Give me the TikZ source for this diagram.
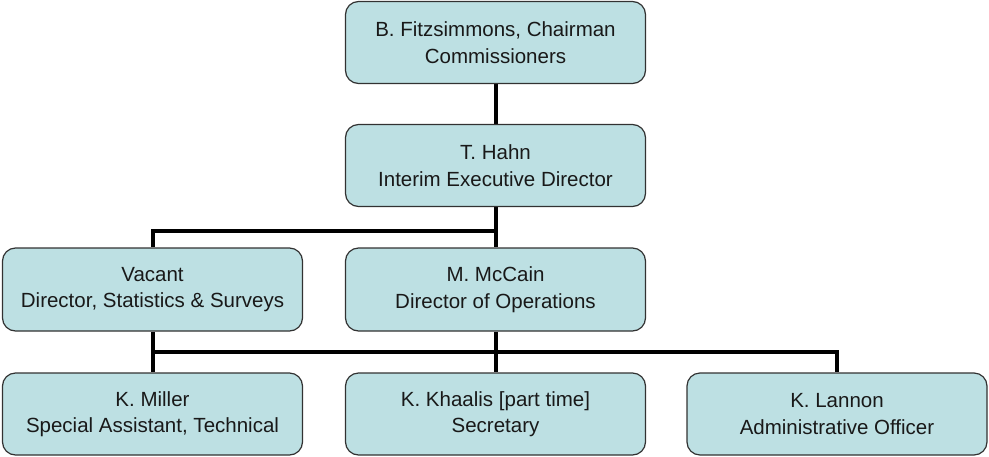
\documentclass[tikz,border=0pt]{standalone}
\usepackage{fontspec}
\setmainfont{Liberation Sans}
\usetikzlibrary{backgrounds}
\definecolor{boxfill}{RGB}{189,224,227}
\definecolor{boxline}{RGB}{50,50,50}
\definecolor{txt}{RGB}{25,25,25}
\begin{document}
\begin{tikzpicture}[x=1pt,y=-1pt,
  orgbox/.style={draw=boxline,line width=1.2pt,fill=boxfill,rounded corners=13pt,
    minimum width=300pt,minimum height=82pt,inner sep=0pt,align=center,
    text=txt,font=\fontsize{20.5}{26.5}\selectfont},
  link/.style={line width=4pt,black,line join=miter}]
\useasboundingbox (0,0) rectangle (989,456);
\node[orgbox] (top) at (495.5,42.5) {B. Fitzsimmons, Chairman\\Commissioners};
\node[orgbox] (hahn) at (495.5,165.5) {T. Hahn\\Interim Executive Director};
\node[orgbox,minimum height=83pt] (vacant) at (152.5,289.5) {Vacant\\Director, Statistics \& Surveys};
\node[orgbox,minimum height=83pt] (mccain) at (495.5,289.5) {M. McCain\\Director of Operations};
\node[orgbox] (miller) at (152.5,414) {K. Miller\\Special Assistant, Technical};
\node[orgbox] (khaalis) at (495.5,414) {K. Khaalis [part time]\\Secretary};
\node[orgbox] (lannon) at (837,414) {K. Lannon\\Administrative Officer};
\coordinate (j1) at (495.5,231);
\coordinate (j2) at (152.5,352);
\begin{scope}[on background layer]
\draw[link] (top.south) -- (hahn.north);
\draw[link] (hahn.south) -- (mccain.north);
\draw[link] (vacant.north) |- (j1);
\draw[link] (vacant.south) -- (miller.north);
\draw[link] (mccain.south) -- (khaalis.north);
\draw[link] (j2) -| (lannon.north);
\end{scope}
\end{tikzpicture}
\end{document}
